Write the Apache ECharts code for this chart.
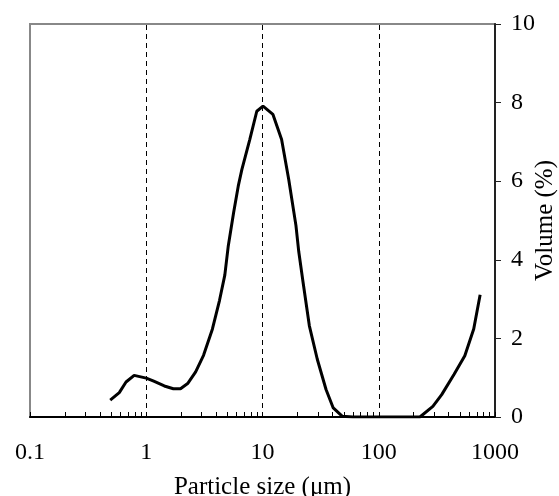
<!DOCTYPE html>
<html><head><meta charset="utf-8">
<script src="https://cdn.jsdelivr.net/npm/echarts@6/dist/echarts.min.js"></script>
<style>html,body{margin:0;padding:0;background:#fff}#c{width:559px;height:496px}</style>
</head><body><div id="c"></div>
<script>
const sizes = [0.49,0.586,0.67,0.787,1.0,1.16,1.43,1.71,1.97,2.27,2.66,3.11,3.71,4.27,4.74,5.08,5.65,6.19,6.65,7.77,8.93,10.1,12.3,14.6,16.8,19.4,20.5,22.3,25.3,29.6,35.2,40.6,48.4,60,80,100,130,170,226,292,348,445,550,656,745];
const volumes = [0.43,0.62,0.89,1.06,0.99,0.91,0.79,0.72,0.72,0.85,1.15,1.57,2.24,2.97,3.61,4.36,5.21,5.88,6.30,7.06,7.78,7.91,7.70,7.06,6.05,4.87,4.21,3.44,2.32,1.47,0.70,0.23,0.02,0,0,0,0,0,0,0.27,0.57,1.09,1.56,2.24,3.11];
const xTickLabels = [0.1,1,10,100,1000];
const gridLines = [1,10,100];
const yTicks = [0,2,4,6,8,10];

const minorTicks = [];
for (let d = 0.1; d < 1000; d *= 10) {
  for (let k = 1; k <= 10; k++) minorTicks.push(+(d * k).toPrecision(3));
}

const font = 'Liberation Serif';
const chart = echarts.init(document.getElementById('c'), null, {renderer: 'canvas'});
chart.setOption({
  animation: false,
  backgroundColor: '#fff',
  grid: {left: 30, right: 64, top: 24, bottom: 79, containLabel: false, outerBoundsMode: 'none',
    show: true, borderColor: '#888', borderWidth: 2},
  xAxis: {
    type: 'log', logBase: 10, min: 0.1, max: 1000,
    name: 'Particle size (μm)', nameLocation: 'middle', nameGap: 58, nameMoveOverlap: false,
    nameTextStyle: {fontFamily: font, fontSize: 25, color: '#000'},
    axisLine: {show: true, lineStyle: {color: '#000', width: 2}},
    axisTick: {show: true, inside: true, length: 5, lineStyle: {color: '#000', width: 1}, customValues: minorTicks},
    axisLabel: {fontFamily: font, fontSize: 24, color: '#000', margin: 24, customValues: xTickLabels,
      formatter: v => String(v)},
    splitLine: {show: false},
    minorTick: {show: false}
  },
  yAxis: {
    type: 'value', position: 'right', min: 0, max: 10, interval: 2,
    name: 'Volume (%)', nameLocation: 'middle', nameGap: 38, nameRotate: 90, nameMoveOverlap: false,
    nameTextStyle: {fontFamily: font, fontSize: 25, color: '#000'},
    axisLine: {show: true, lineStyle: {color: '#222', width: 2}},
    axisTick: {show: true, inside: false, length: 6, lineStyle: {color: '#222', width: 1}},
    axisLabel: {fontFamily: font, fontSize: 24, color: '#000', margin: 16, customValues: yTicks},
    splitLine: {show: false}
  },
  series: [{
    type: 'line',
    data: sizes.map((s, i) => [s, volumes[i]]),
    showSymbol: false, symbol: 'none',
    lineStyle: {color: '#000', width: 3},
    markLine: {
      silent: true, symbol: 'none', label: {show: false},
      lineStyle: {color: '#000', width: 1, type: [5, 4]},
      data: gridLines.map(v => ({xAxis: v}))
    }
  }]
});
</script></body></html>
